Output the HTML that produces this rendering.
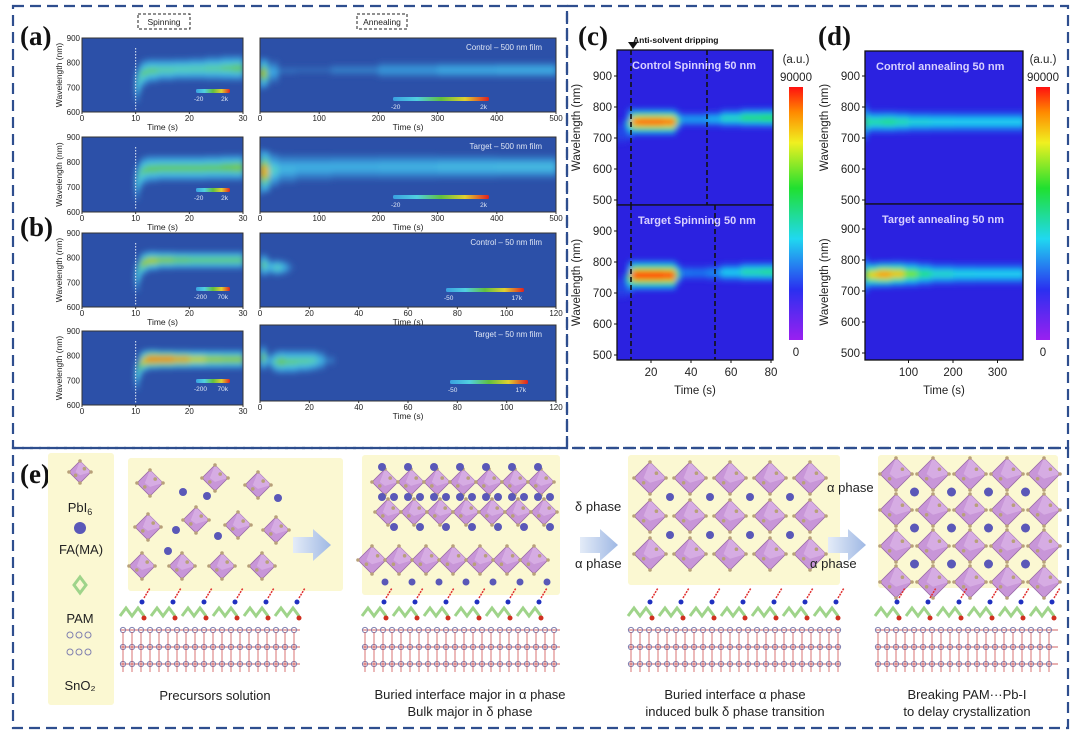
<!DOCTYPE html>
<html><head><meta charset="utf-8"><style>
body{margin:0;background:#fff;width:1080px;height:735px;overflow:hidden;font-family:"Liberation Sans",sans-serif}
</style></head><body>
<svg id="s" width="1080" height="735" viewBox="0 0 1080 735" font-family="Liberation Sans, sans-serif">
<defs>
<filter id="bl" x="-20%" y="-80%" width="140%" height="260%"><feGaussianBlur stdDeviation="3"/></filter>
<linearGradient id="cbv" x1="0" y1="1" x2="0" y2="0">
<stop offset="0" stop-color="#9a20f0"/><stop offset="0.2" stop-color="#2a30f0"/><stop offset="0.4" stop-color="#20d8f0"/><stop offset="0.6" stop-color="#20e030"/><stop offset="0.78" stop-color="#f0f020"/><stop offset="0.9" stop-color="#ff8a00"/><stop offset="1" stop-color="#ff1010"/></linearGradient>
<linearGradient id="cbh" x1="0" y1="0" x2="1" y2="0">
<stop offset="0" stop-color="#3aa0e0"/><stop offset="0.25" stop-color="#50d0e0"/><stop offset="0.5" stop-color="#60c040"/><stop offset="0.75" stop-color="#e0d030"/><stop offset="1" stop-color="#e02020"/></linearGradient>
<linearGradient id="arr" x1="0" y1="0" x2="1" y2="0"><stop offset="0" stop-color="#e4ecf8"/><stop offset="1" stop-color="#9fb8e4"/></linearGradient>
</defs>
<g fill="none" stroke="#2e4e8e" stroke-width="2.2" stroke-dasharray="11,6">
<rect x="13" y="6" width="554" height="442"/><rect x="567" y="6" width="501" height="442"/><rect x="13" y="448" width="1055" height="280"/>
</g>
<g id="plots"></g>
<g id="schem"></g>
</svg>
<script>
// ---- data ----
const ytickAB=[600,700,800,900];
const xtickSpin=[0,10,20,30];
const xtickAnnA=[0,100,200,300,400,500];
const xtickAnnB=[0,20,40,60,80,100,120];
const ytickCD=[500,600,700,800,900];
const xtickC=[20,40,60,80];
const xtickD=[100,200,300];
const a1T=[10,10.5,11,12,14,17,20,23,26,28,30], a1C=[690,720,750,765,770,772,775,775,778,778,778], a1I=[0.3,0.4,0.45,0.5,0.45,0.42,0.42,0.43,0.45,0.5,0.5], a1W=[80,70,60,55,50,48,48,50,55,55,55];
const a2T=[10,10.5,11,12,14,17,20,23,26,28,30], a2C=[700,730,760,770,775,775,775,775,778,778,778], a2I=[0.3,0.4,0.45,0.5,0.5,0.5,0.5,0.5,0.5,0.55,0.55], a2W=[80,70,60,60,55,55,55,55,55,55,55];
const aa1T=[0,3,12,30,60,120,200,300,400,500], aa1C=[755,755,760,765,770,770,770,770,770,770], aa1I=[0.5,0.85,0.35,0.1,0.05,0.08,0.15,0.22,0.25,0.25], aa1W=[70,70,60,40,30,30,35,35,35,35];
const aa2T=[0,3,15,30,60,120,200,300,400,500], aa2C=[760,760,765,770,775,780,780,780,780,780], aa2I=[0.6,1.0,0.5,0.3,0.25,0.25,0.25,0.28,0.3,0.3], aa2W=[100,100,80,65,60,55,55,55,50,50];
const b1T=[10,10.5,11,12,14,17,20,23,26,28,30], b1C=[700,740,770,785,790,790,790,790,790,790,790], b1I=[0.3,0.4,0.5,0.7,0.6,0.55,0.5,0.5,0.5,0.5,0.5], b1W=[70,60,50,45,40,38,38,38,38,38,38];
const b2T=[10,10.5,11,12,14,17,20,23,26,28,30], b2C=[700,740,770,785,785,785,785,785,785,785,785], b2I=[0.3,0.45,0.6,0.85,0.9,0.85,0.75,0.65,0.6,0.6,0.6], b2W=[70,60,50,45,42,40,40,40,40,40,40];
const bb1T=[0,1,2,3,5,6,8,10,12,14], bb1C=[770,770,770,765,760,760,760,760,760,760], bb1I=[0.3,0.5,0.5,0.3,0.25,0.45,0.4,0.25,0.1,0.02], bb1W=[40,50,50,40,30,35,35,30,25,20];
const bb2T=[0,1,2,3,5,7,10,15,20,23,26,30,40], bb2C=[770,770,770,760,755,755,755,755,760,760,760,760,760], bb2I=[0.3,0.6,0.5,0.1,0.3,0.55,0.5,0.45,0.45,0.4,0.15,0.05,0.02], bb2W=[40,55,50,20,40,50,50,50,45,45,35,20,15];
const c1T=[2,8,10,11,14,20,26,32,34,40,48,55,65,75,85,90], c1C=[700,740,752,752,752,752,752,752,760,760,760,762,765,765,765,765], c1I=[0,0.2,0.7,0.9,0.95,0.95,0.95,0.9,0.3,0.3,0.3,0.38,0.5,0.55,0.55,0.5], c1W=[60,60,50,45,45,45,45,45,25,25,25,30,35,35,35,35];
const c2T=[2,8,10,11,14,20,26,32,34,40,48,55,65,75,85,90], c2C=[700,740,757,757,757,757,757,757,765,765,765,765,768,768,768,768], c2I=[0,0.2,0.8,0.98,1.0,1.0,1.0,0.95,0.25,0.22,0.22,0.3,0.45,0.5,0.5,0.5], c2W=[60,60,55,50,50,50,50,50,25,25,25,30,35,35,35,35];
const d1T=[0,5,10,40,70,100,150,200,250,300,360], d1C=[750,752,752,752,752,752,752,752,752,752,752], d1I=[0.65,0.5,0.45,0.5,0.5,0.42,0.4,0.38,0.38,0.38,0.38], d1W=[90,50,40,40,40,38,38,38,38,38,38];
const d2T=[0,5,10,30,60,90,120,150,200,250,300,360], d2C=[750,752,752,752,755,755,755,755,755,755,755,755], d2I=[0.7,0.55,0.7,0.85,0.88,0.7,0.55,0.45,0.4,0.38,0.38,0.38], d2W=[90,50,45,45,45,45,45,40,38,38,38,38];

const NS="http://www.w3.org/2000/svg";
function el(tag,attrs,parent,txt){const e=document.createElementNS(NS,tag);for(const k in attrs)e.setAttribute(k,attrs[k]);if(txt!==undefined)e.textContent=txt;(parent||document.getElementById('s')).appendChild(e);return e;}
function lerp(a,b,t){return a+(b-a)*t}
function mkCmap(stops){return v=>{v=Math.max(0,Math.min(1,v));for(let i=1;i<stops.length;i++){if(v<=stops[i][0]){const a=stops[i-1],b=stops[i],t=(v-a[0])/(b[0]-a[0]);return 'rgb('+[1,2,3].map(k=>Math.round(lerp(a[k],b[k],t))).join(',')+')';}}const l=stops[stops.length-1];return 'rgb('+l[1]+','+l[2]+','+l[3]+')';}}
const cmapAB=mkCmap([[0,44,80,168],[0.2,58,160,224],[0.38,80,208,224],[0.52,100,196,64],[0.7,208,208,48],[0.85,240,128,32],[1,224,32,32]]);
const cmapCD=mkCmap([[0,42,32,224],[0.2,30,110,240],[0.38,32,216,240],[0.55,32,224,64],[0.72,240,240,32],[0.86,255,144,0],[1,255,16,16]]);
const P=document.getElementById('plots');

function heat(g,x,y,T,C,I,W,cmap,nmPx){
  const hg=el('g',{filter:'url(#bl)'},g);
  
  
  [[1.8,0.3],[1.2,0.55],[0.75,0.8],[0.4,1]].forEach(([wf,inf])=>{
    for(let i=0;i<T.length-1;i++){
      const x0=x(T[i]),x1=x(T[i+1]);
      const cc=(C[i]+C[i+1])/2,ww=(W[i]+W[i+1])/2*wf,ii=(I[i]+I[i+1])/2*inf;
      if(ii<0.05)continue;
      const r=el('rect',{x:x0,y:y(cc+ww/2),width:x1-x0+0.6,height:ww*nmPx,fill:cmap(ii)},hg);
      
      
    }
  });
}
let clipId=0;
function plotAB(o){
  const g=el('g',{},P);
  
  
  const x=t=>o.x0+(t-o.t0)/(o.t1-o.t0)*(o.x1-o.x0);
  const y=w=>o.y1-(w-600)/300*(o.y1-o.y0);
  const id='cp'+(clipId++);
  const cp=el('clipPath',{id:id},g);el('rect',{x:o.x0,y:o.y0,width:o.x1-o.x0,height:o.y1-o.y0},cp);
  el('rect',{x:o.x0,y:o.y0,width:o.x1-o.x0,height:o.y1-o.y0,fill:'#2c50a8'},g);
  const cg=el('g',{'clip-path':'url(#'+id+')'},g);
  heat(cg,x,y,o.T,o.C,o.I,o.W,cmapAB,(o.y1-o.y0)/300);
  if(o.dash)el('line',{x1:x(10),x2:x(10),y1:o.y0+10,y2:o.y1-2,stroke:'#e8eef8','stroke-width':1,'stroke-dasharray':'1.5,1.5'},g);
  el('rect',{x:o.x0,y:o.y0,width:o.x1-o.x0,height:o.y1-o.y0,fill:'none',stroke:'#333','stroke-width':1},g);
  o.xt.forEach(v=>{const t=el('text',{x:x(v),y:o.y1+9,'font-size':8,'text-anchor':'middle',fill:'#222'},g,v);
    el('line',{x1:x(v),x2:x(v),y1:o.y1,y2:o.y1+2,stroke:'#333'},g);});
  if(o.xlabel){const t=el('text',{x:(o.x0+o.x1)/2,y:o.y1+18,'font-size':8.5,'text-anchor':'middle',fill:'#222'},g,'Time (s)');}
  if(o.yt){ytickAB.forEach(v=>{const t=el('text',{x:o.x0-2,y:y(v)+3,'font-size':8,'text-anchor':'end',fill:'#222'},g,v);});
    const t=el('text',{transform:`translate(${o.x0-20},${(o.y0+o.y1)/2}) rotate(-90)`,'font-size':8.5,'text-anchor':'middle',fill:'#222'},g,'Wavelength (nm)');}
  if(o.title){const t=el('text',{x:o.x1-14,y:o.y0+12,'font-size':8,'text-anchor':'end',fill:'#dfe6f5'},g,o.title);}
  const cb=o.cb;const r=el('rect',{x:cb[0],y:cb[1],width:cb[2],height:4,fill:'url(#cbh)',rx:1.5},g);
  el('text',{x:cb[0]-2,y:cb[1]+12,'font-size':6.5,fill:'#dfe6f5'},g,cb[3]);
  el('text',{x:cb[0]+cb[2]-2,y:cb[1]+12,'font-size':6.5,fill:'#dfe6f5','text-anchor':'end'},g,cb[4]);
}
plotAB({name:'spin-control-500',x0:82,x1:243,y0:38,y1:112,t0:0,t1:30,T:a1T,C:a1C,I:a1I,W:a1W,xt:xtickSpin,yt:1,xlabel:1,dash:1,cb:[196,89,34,'-20','2k']});
plotAB({name:'spin-target-500',x0:82,x1:243,y0:137,y1:212,t0:0,t1:30,T:a2T,C:a2C,I:a2I,W:a2W,xt:xtickSpin,yt:1,xlabel:1,dash:1,cb:[196,188,34,'-20','2k']});
plotAB({name:'spin-control-50',x0:82,x1:243,y0:233,y1:307,t0:0,t1:30,T:b1T,C:b1C,I:b1I,W:b1W,xt:xtickSpin,yt:1,xlabel:1,dash:1,cb:[196,287,34,'-200','70k']});
plotAB({name:'spin-target-50',x0:82,x1:243,y0:331,y1:405,t0:0,t1:30,T:b2T,C:b2C,I:b2I,W:b2W,xt:xtickSpin,yt:1,xlabel:0,dash:1,cb:[196,379,34,'-200','70k']});
plotAB({name:'anneal-control-500',x0:260,x1:556,y0:38,y1:112,t0:0,t1:500,T:aa1T,C:aa1C,I:aa1I,W:aa1W,xt:xtickAnnA,xlabel:1,title:'Control – 500 nm film',cb:[393,97,96,'-20','2k']});
plotAB({name:'anneal-target-500',x0:260,x1:556,y0:137,y1:212,t0:0,t1:500,T:aa2T,C:aa2C,I:aa2I,W:aa2W,xt:xtickAnnA,xlabel:1,title:'Target – 500 nm film',cb:[393,195,96,'-20','2k']});
plotAB({name:'anneal-control-50',x0:260,x1:556,y0:233,y1:307,t0:0,t1:120,T:bb1T,C:bb1C,I:bb1I,W:bb1W,xt:xtickAnnB,xlabel:1,title:'Control – 50 nm film',cb:[446,288,78,'-50','17k']});
plotAB({name:'anneal-target-50',x0:260,x1:556,y0:325,y1:401,t0:0,t1:120,T:bb2T,C:bb2C,I:bb2I,W:bb2W,xt:xtickAnnB,xlabel:1,title:'Target – 50 nm film',cb:[450,380,78,'-50','17k']});

function plotCD(o){
  const g=el('g',{},P);
  
  
  const x=t=>o.xz+t*o.sx;
  const y=w=>o.y500-(w-500)*o.sy;
  const id='cp'+(clipId++);
  const cp=el('clipPath',{id:id},g);el('rect',{x:o.x0,y:o.y0,width:o.x1-o.x0,height:o.y1-o.y0},cp);
  el('rect',{x:o.x0,y:o.y0,width:o.x1-o.x0,height:o.y1-o.y0,fill:'#2b22e0'},g);
  const cg=el('g',{'clip-path':'url(#'+id+')'},g);
  heat(cg,x,y,o.T,o.C,o.I,o.W,cmapCD,o.sy);
  (o.dl||[]).forEach(t=>{const l=el('line',{x1:x(t),x2:x(t),y1:o.y0,y2:o.y1,stroke:'#111','stroke-width':1.6,'stroke-dasharray':'5,3'},g);});
  el('rect',{x:o.x0,y:o.y0,width:o.x1-o.x0,height:o.y1-o.y0,fill:'none',stroke:'#111','stroke-width':1.3},g);
  ytickCD.forEach(v=>{const t=el('text',{x:o.x0-5,y:y(v)+4,'font-size':11.5,'text-anchor':'end',fill:'#222'},g,v);
    el('line',{x1:o.x0,x2:o.x0-3,y1:y(v),y2:y(v),stroke:'#111'},g);});
  const t=el('text',{transform:`translate(${o.x0-37},${(o.y0+o.y1)/2}) rotate(-90)`,'font-size':11.5,'text-anchor':'middle',fill:'#222'},g,'Wavelength (nm)');
  const tt=el('text',{x:o.x0+(o.tx||16),y:o.y0+19,'font-size':11,'font-weight':'bold',fill:'#d8d0ff','xml:space':'preserve'},g,o.title);
  if(o.xt){o.xt.forEach(v=>{const t=el('text',{x:x(v),y:o.y1+16,'font-size':11.5,'text-anchor':'middle',fill:'#222'},g,v);
    el('line',{x1:x(v),x2:x(v),y1:o.y1,y2:o.y1+3,stroke:'#111'},g);});
    const xl=el('text',{x:(o.x0+o.x1)/2,y:o.y1+34,'font-size':11.5,'text-anchor':'middle',fill:'#222'},g,'Time (s)');}
}
plotCD({name:'c-control-spinning',x0:617,x1:773,y0:50,y1:205,xz:611,sx:2,y500:200,sy:0.31,T:c1T,C:c1C,I:c1I,W:c1W,dl:[10,48],title:'Control  Spinning  50 nm',tx:15});
plotCD({name:'c-target-spinning',x0:617,x1:773,y0:205,y1:360,xz:611,sx:2,y500:355,sy:0.31,T:c2T,C:c2C,I:c2I,W:c2W,dl:[10,52],title:'Target  Spinning  50 nm',tx:21,xt:xtickC});
plotCD({name:'d-control-annealing',x0:865,x1:1023,y0:51,y1:204,xz:864,sx:0.445,y500:200,sy:0.31,T:d1T,C:d1C,I:d1I,W:d1W,title:'Control  annealing 50 nm',tx:11});
plotCD({name:'d-target-annealing',x0:865,x1:1023,y0:204,y1:360,xz:864,sx:0.445,y500:353,sy:0.31,T:d2T,C:d2C,I:d2I,W:d2W,title:'Target  annealing 50 nm',tx:17,xt:xtickD});
[[789,'c-colorbar'],[1036,'d-colorbar']].forEach(([cx,nm])=>{
  const r=el('rect',{x:cx,y:87,width:14,height:253,fill:'url(#cbv)'},P);
  el('text',{x:cx+7,y:63,'font-size':11.5,'text-anchor':'middle',fill:'#222'},P,'(a.u.)');
  el('text',{x:cx+7,y:81,'font-size':11.5,'text-anchor':'middle',fill:'#222'},P,'90000');
  el('text',{x:cx+7,y:356,'font-size':11.5,'text-anchor':'middle',fill:'#222'},P,'0');
});
[['(a)',20,45],['(b)',20,236],['(c)',578,45],['(d)',818,45],['(e)',20,483]].forEach(([t,x,y])=>{const e=el('text',{x:x,y:y,'font-size':27,'font-weight':'bold',style:'font-family:"Liberation Serif",serif',fill:'#111'},P,t);});
[['Spinning',138,14,52],['Annealing',357,14,50]].forEach(([t,x,y,w])=>{el('rect',{x:x,y:y,width:w,height:15,fill:'none',stroke:'#222','stroke-dasharray':'3,2'},P);const e=el('text',{x:x+w/2,y:y+11,'font-size':8.5,'text-anchor':'middle',fill:'#222'},P,t);});
el('polygon',{points:'628,42 638,42 633,49',fill:'#111'},P);
el('text',{x:633,y:43,'font-size':8.5,'font-weight':'bold',fill:'#111'},P,'Anti-solvent dripping');

// ---- schematic (e) ----
const S=document.getElementById('schem');
function octa(cx,cy,r,g){const o=el('g',{},g);
  el('polygon',{points:`${cx},${cy-r} ${cx+r},${cy} ${cx},${cy+r} ${cx-r},${cy}`,fill:'#c896d8',stroke:'#9a6aa8','stroke-width':0.8},o);
  el('polygon',{points:`${cx},${cy-r} ${cx+r},${cy} ${cx},${cy+r*0.3} ${cx-r*0.4},${cy}`,fill:'#d9b2e6',opacity:0.8},o);
  [[0,-r],[r,0],[0,r],[-r,0],[r*0.4,-r*0.3],[-r*0.4,r*0.3]].forEach(([dx,dy])=>el('circle',{cx:cx+dx,cy:cy+dy,r:1.8,fill:'#b8a07a'},o));}
function ball(cx,cy,r,g){const b=el('circle',{cx:cx,cy:cy,r:r||4,fill:'#5a58b8'},g);}
function bg(x,y,w,h,name){const r=el('rect',{x:x,y:y,width:w,height:h,fill:'#fbf8d2',rx:3},S);}
function substrate(x0,x1){const g=el('g',{},S);
  for(let x=x0;x<x1-20;x+=31){el('path',{d:`M${x},616 l6,-8 l6,8 l6,-8 l6,8`,stroke:'#9fd48a','stroke-width':3,fill:'none'},g);el('circle',{cx:x+24,cy:618,r:2.5,fill:'#d03020'},g);el('circle',{cx:x+22,cy:602,r:2.5,fill:'#2030c0'},g);
    el('line',{x1:x+24,y1:598,x2:x+30,y2:588,stroke:'#e03030','stroke-width':1.5,'stroke-dasharray':'2,1'},g);}
  [630,647,664].forEach(y=>{el('line',{x1:x0,x2:x1,y1:y,y2:y,stroke:'#d06060','stroke-width':1},g);for(let x=x0+3;x<x1;x+=9){el('circle',{cx:x,cy:y,r:2.6,fill:'none',stroke:'#8080b0','stroke-width':1},g);}});
  for(let x=x0+3;x<x1;x+=9){el('line',{x1:x,x2:x,y1:632,y2:672,stroke:'#d05050','stroke-width':0.8},g);}
}
bg(48,453,66,252,'legend-box');
octa(80,472,11,S);
const pb=el('text',{x:80,y:512,'font-size':13,'text-anchor':'middle',fill:'#222'},S,'PbI');const ts=el('tspan',{'font-size':9,dy:3},pb,'6');
ball(80,528,6,S);el('text',{x:81,y:554,'font-size':13,'text-anchor':'middle',fill:'#222'},S,'FA(MA)');
el('path',{d:'M74,585 l6,-8 l6,8 l-6,8 z',stroke:'#9fd48a','stroke-width':3,fill:'none'},S);
el('text',{x:80,y:623,'font-size':13,'text-anchor':'middle',fill:'#222'},S,'PAM');
[635,652].forEach(y=>{for(let x=70;x<96;x+=9)el('circle',{cx:x,cy:y,r:3,fill:'none',stroke:'#8080b0'},S);});
el('text',{x:80,y:690,'font-size':13,'text-anchor':'middle',fill:'#222'},S,'SnO₂');
bg(128,458,215,133,'precursor-box');
[[150,483],[215,478],[258,485],[148,527],[196,520],[238,525],[276,530],[142,566],[182,566],[222,566],[262,566]].forEach(([x,y])=>octa(x,y,13,S));
[[183,492],[207,496],[278,498],[176,530],[218,536],[168,551]].forEach(([x,y])=>ball(x,y,4,S));
substrate(120,300);
bg(362,455,198,140,'stage2-box');
[482,512].forEach((y,k)=>{for(let x=385;x<545;x+=26)octa(x+k*3,y,13,S);for(let x=382;x<555;x+=26){ball(x,y-15,4,S);ball(x+12,y+15,4,S);}});
for(let x=372;x<560;x+=27)octa(x,560,14,S);
for(let x=385;x<560;x+=27)ball(x,582,3.5,S);
substrate(362,560);
el('text',{x:575,y:511,'font-size':13,fill:'#222'},S,'δ phase');
el('text',{x:575,y:568,'font-size':13,fill:'#222'},S,'α phase');
bg(628,455,212,130,'stage3-box');
for(let r=0;r<3;r++)for(let c=0;c<5;c++)octa(650+c*40,478+r*38,16,S);
for(let r=0;r<2;r++)for(let c=0;c<4;c++)ball(670+c*40,497+r*38,4,S);
substrate(628,840);
el('text',{x:827,y:492,'font-size':13,fill:'#222'},S,'α phase');
el('text',{x:810,y:568,'font-size':13,fill:'#222'},S,'α phase');
bg(878,455,180,133,'stage4-box');
for(let r=0;r<4;r++)for(let c=0;c<5;c++)octa(896+c*37,474+r*36,16,S);
for(let r=0;r<3;r++)for(let c=0;c<4;c++)ball(914.5+c*37,492+r*36,4.5,S);
substrate(875,1058);
[[293,545],[580,545],[828,545]].forEach(([x,y])=>{const a=el('polygon',{points:`${x},${y-8} ${x+20},${y-8} ${x+20},${y-16} ${x+38},${y} ${x+20},${y+16} ${x+20},${y+8} ${x},${y+8}`,fill:'url(#arr)'},S);});
[['Precursors solution',215,700],['Buried interface major in α phase',470,699],['Bulk major in δ phase',470,716],['Buried interface α phase',735,699],['induced bulk δ phase transition',735,716],['Breaking PAM···Pb-I',967,699],['to delay crystallization',967,716]].forEach(([t,x,y])=>{const e=el('text',{x:x,y:y,'font-size':13,'text-anchor':'middle',fill:'#222'},S,t);});
</script>
</body></html>
